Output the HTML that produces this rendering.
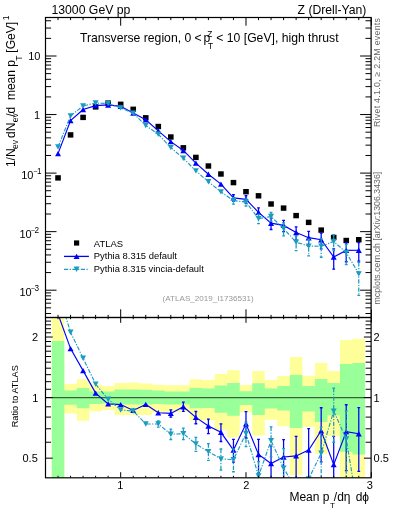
<!DOCTYPE html><html><head><meta charset="utf-8"><style>html,body{margin:0;padding:0;background:#fff;}svg{display:block;will-change:transform;}</style></head><body>
<svg width="393" height="512" viewBox="0 0 393 512" font-family="&quot;Liberation Sans&quot;, sans-serif">
<rect width="393" height="512" fill="#fff"/>
<path d="M51.77,317.50L64.30,317.50L64.30,384.00L76.83,384.00L76.83,379.20L89.36,379.20L89.36,384.80L101.89,384.80L101.89,386.00L114.42,386.00L114.42,383.00L126.95,383.00L126.95,382.60L139.48,382.60L139.48,383.50L152.01,383.50L152.01,384.80L164.54,384.80L164.54,385.30L177.07,385.30L177.07,385.30L189.60,385.30L189.60,379.20L202.13,379.20L202.13,380.00L214.67,380.00L214.67,374.10L227.20,374.10L227.20,370.20L239.73,370.20L239.73,385.00L252.26,385.00L252.26,371.00L264.79,371.00L264.79,380.00L277.32,380.00L277.32,376.00L289.85,376.00L289.85,357.10L302.38,357.10L302.38,375.80L314.91,375.80L314.91,363.00L327.44,363.00L327.44,370.90L339.97,370.90L339.97,340.10L352.50,340.10L352.50,338.80L365.03,338.80L365.03,477.50L352.50,477.50L352.50,477.50L339.97,477.50L339.97,436.20L327.44,436.20L327.44,453.70L314.91,453.70L314.91,427.00L302.38,427.00L302.38,475.00L289.85,475.00L289.85,426.20L277.32,426.20L277.32,419.70L264.79,419.70L264.79,435.50L252.26,435.50L252.26,412.20L239.73,412.20L239.73,437.50L227.20,437.50L227.20,430.20L214.67,430.20L214.67,420.40L202.13,420.40L202.13,420.80L189.60,420.80L189.60,412.00L177.07,412.00L177.07,412.00L164.54,412.00L164.54,412.40L152.01,412.40L152.01,415.00L139.48,415.00L139.48,415.00L126.95,415.00L126.95,415.00L114.42,415.00L114.42,410.00L101.89,410.00L101.89,411.20L89.36,411.20L89.36,420.70L76.83,420.70L76.83,413.50L64.30,413.50L64.30,477.50L51.77,477.50Z" fill="#ffff99"/>
<path d="M51.77,341.00L64.30,341.00L64.30,390.60L76.83,390.60L76.83,388.00L89.36,388.00L89.36,391.40L101.89,391.40L101.89,391.40L114.42,391.40L114.42,389.50L126.95,389.50L126.95,389.50L139.48,389.50L139.48,389.80L152.01,389.80L152.01,390.60L164.54,390.60L164.54,391.40L177.07,391.40L177.07,391.40L189.60,391.40L189.60,388.00L202.13,388.00L202.13,388.50L214.67,388.50L214.67,385.50L227.20,385.50L227.20,382.90L239.73,382.90L239.73,391.20L252.26,391.20L252.26,383.20L264.79,383.20L264.79,388.50L277.32,388.50L277.32,386.10L289.85,386.10L289.85,375.00L302.38,375.00L302.38,385.90L314.91,385.90L314.91,379.10L327.44,379.10L327.44,383.10L339.97,383.10L339.97,363.90L352.50,363.90L352.50,363.00L365.03,363.00L365.03,454.50L352.50,454.50L352.50,451.80L339.97,451.80L339.97,415.20L327.44,415.20L327.44,422.10L314.91,422.10L314.91,411.60L302.38,411.60L302.38,428.00L289.85,428.00L289.85,410.60L277.32,410.60L277.32,408.40L264.79,408.40L264.79,414.90L252.26,414.90L252.26,405.00L239.73,405.00L239.73,415.80L227.20,415.80L227.20,412.80L214.67,412.80L214.67,408.00L202.13,408.00L202.13,408.30L189.60,408.30L189.60,404.40L177.07,404.40L177.07,404.40L164.54,404.40L164.54,404.00L152.01,404.00L152.01,404.40L139.48,404.40L139.48,404.60L126.95,404.60L126.95,404.60L114.42,404.60L114.42,403.60L101.89,403.60L101.89,403.90L89.36,403.90L89.36,408.20L76.83,408.20L76.83,404.80L64.30,404.80L64.30,477.50L51.77,477.50Z" fill="#99ff99"/>
<line x1="45.5" y1="397.6" x2="371.1" y2="397.6" stroke="#000" stroke-width="1.3" stroke-opacity="0.62"/>
<defs><clipPath id="cm"><rect x="45.5" y="17.5" width="325.6" height="300"/></clipPath><clipPath id="cr"><rect x="45.5" y="317.5" width="325.6" height="160.3"/></clipPath></defs>
<g clip-path="url(#cr)">
<polyline points="58.03,314.10 70.56,348.60 83.09,370.60 95.62,393.10 108.15,403.90 120.68,404.60 133.22,410.40 145.75,404.40 158.28,412.80 170.81,413.40 183.34,406.70 195.87,417.40 208.40,426.00 220.93,432.30 233.46,450.00 245.99,423.80 258.52,454.50 271.05,463.50 283.58,457.00 296.12,455.90 308.65,450.10 321.18,430.70 333.71,464.60 346.24,431.60 358.77,433.80" fill="none" stroke="#0000ff" stroke-width="1.15"/>
<path d="M55.03,316.80L61.03,316.80L58.03,311.40Z" fill="#0000ff"/>
<path d="M67.56,351.30L73.56,351.30L70.56,345.90Z" fill="#0000ff"/>
<path d="M80.09,373.30L86.09,373.30L83.09,367.90Z" fill="#0000ff"/>
<path d="M92.62,395.80L98.62,395.80L95.62,390.40Z" fill="#0000ff"/>
<path d="M105.15,406.60L111.15,406.60L108.15,401.20Z" fill="#0000ff"/>
<path d="M117.68,407.30L123.68,407.30L120.68,401.90Z" fill="#0000ff"/>
<path d="M130.22,413.10L136.22,413.10L133.22,407.70Z" fill="#0000ff"/>
<path d="M142.75,407.10L148.75,407.10L145.75,401.70Z" fill="#0000ff"/>
<path d="M155.28,415.50L161.28,415.50L158.28,410.10Z" fill="#0000ff"/>
<line x1="170.81" y1="409.81" x2="170.81" y2="417.15" stroke="#0000ff" stroke-width="1.25"/><line x1="169.41" y1="409.81" x2="172.21" y2="409.81" stroke="#0000ff" stroke-width="1.3"/><line x1="169.41" y1="417.15" x2="172.21" y2="417.15" stroke="#0000ff" stroke-width="1.3"/>
<path d="M167.81,416.10L173.81,416.10L170.81,410.70Z" fill="#0000ff"/>
<line x1="183.34" y1="402.19" x2="183.34" y2="411.46" stroke="#0000ff" stroke-width="1.25"/><line x1="181.94" y1="402.19" x2="184.74" y2="402.19" stroke="#0000ff" stroke-width="1.3"/><line x1="181.94" y1="411.46" x2="184.74" y2="411.46" stroke="#0000ff" stroke-width="1.3"/>
<path d="M180.34,409.40L186.34,409.40L183.34,404.00Z" fill="#0000ff"/>
<line x1="195.87" y1="411.49" x2="195.87" y2="423.74" stroke="#0000ff" stroke-width="1.25"/><line x1="194.47" y1="411.49" x2="197.27" y2="411.49" stroke="#0000ff" stroke-width="1.3"/><line x1="194.47" y1="423.74" x2="197.27" y2="423.74" stroke="#0000ff" stroke-width="1.3"/>
<path d="M192.87,420.10L198.87,420.10L195.87,414.70Z" fill="#0000ff"/>
<line x1="208.40" y1="419.03" x2="208.40" y2="433.57" stroke="#0000ff" stroke-width="1.25"/><line x1="207.00" y1="419.03" x2="209.80" y2="419.03" stroke="#0000ff" stroke-width="1.3"/><line x1="207.00" y1="433.57" x2="209.80" y2="433.57" stroke="#0000ff" stroke-width="1.3"/>
<path d="M205.40,428.70L211.40,428.70L208.40,423.30Z" fill="#0000ff"/>
<line x1="220.93" y1="423.97" x2="220.93" y2="441.51" stroke="#0000ff" stroke-width="1.25"/><line x1="219.53" y1="423.97" x2="222.33" y2="423.97" stroke="#0000ff" stroke-width="1.3"/><line x1="219.53" y1="441.51" x2="222.33" y2="441.51" stroke="#0000ff" stroke-width="1.3"/>
<path d="M217.93,435.00L223.93,435.00L220.93,429.60Z" fill="#0000ff"/>
<line x1="233.46" y1="439.32" x2="233.46" y2="462.17" stroke="#0000ff" stroke-width="1.25"/><line x1="232.06" y1="439.32" x2="234.86" y2="439.32" stroke="#0000ff" stroke-width="1.3"/><line x1="232.06" y1="462.17" x2="234.86" y2="462.17" stroke="#0000ff" stroke-width="1.3"/>
<path d="M230.46,452.70L236.46,452.70L233.46,447.30Z" fill="#0000ff"/>
<line x1="245.99" y1="411.59" x2="245.99" y2="438.00" stroke="#0000ff" stroke-width="1.25"/><line x1="244.59" y1="411.59" x2="247.39" y2="411.59" stroke="#0000ff" stroke-width="1.3"/><line x1="244.59" y1="438.00" x2="247.39" y2="438.00" stroke="#0000ff" stroke-width="1.3"/>
<path d="M242.99,426.50L248.99,426.50L245.99,421.10Z" fill="#0000ff"/>
<line x1="258.52" y1="439.30" x2="258.52" y2="472.91" stroke="#0000ff" stroke-width="1.25"/><line x1="257.12" y1="439.30" x2="259.92" y2="439.30" stroke="#0000ff" stroke-width="1.3"/><line x1="257.12" y1="472.91" x2="259.92" y2="472.91" stroke="#0000ff" stroke-width="1.3"/>
<path d="M255.52,457.20L261.52,457.20L258.52,451.80Z" fill="#0000ff"/>
<line x1="271.05" y1="446.12" x2="271.05" y2="485.21" stroke="#0000ff" stroke-width="1.25"/><line x1="269.65" y1="446.12" x2="272.45" y2="446.12" stroke="#0000ff" stroke-width="1.3"/><line x1="269.65" y1="485.21" x2="272.45" y2="485.21" stroke="#0000ff" stroke-width="1.3"/>
<path d="M268.05,466.20L274.05,466.20L271.05,460.80Z" fill="#0000ff"/>
<line x1="283.58" y1="439.62" x2="283.58" y2="478.71" stroke="#0000ff" stroke-width="1.25"/><line x1="282.18" y1="439.62" x2="284.98" y2="439.62" stroke="#0000ff" stroke-width="1.3"/><line x1="282.18" y1="478.71" x2="284.98" y2="478.71" stroke="#0000ff" stroke-width="1.3"/>
<path d="M280.58,459.70L286.58,459.70L283.58,454.30Z" fill="#0000ff"/>
<line x1="296.12" y1="436.40" x2="296.12" y2="481.04" stroke="#0000ff" stroke-width="1.25"/><line x1="294.72" y1="436.40" x2="297.52" y2="436.40" stroke="#0000ff" stroke-width="1.3"/><line x1="294.72" y1="481.04" x2="297.52" y2="481.04" stroke="#0000ff" stroke-width="1.3"/>
<path d="M293.12,458.60L299.12,458.60L296.12,453.20Z" fill="#0000ff"/>
<line x1="308.65" y1="428.53" x2="308.65" y2="478.80" stroke="#0000ff" stroke-width="1.25"/><line x1="307.25" y1="428.53" x2="310.05" y2="428.53" stroke="#0000ff" stroke-width="1.3"/><line x1="307.25" y1="478.80" x2="310.05" y2="478.80" stroke="#0000ff" stroke-width="1.3"/>
<path d="M305.65,452.80L311.65,452.80L308.65,447.40Z" fill="#0000ff"/>
<line x1="321.18" y1="407.77" x2="321.18" y2="461.87" stroke="#0000ff" stroke-width="1.25"/><line x1="319.78" y1="407.77" x2="322.58" y2="407.77" stroke="#0000ff" stroke-width="1.3"/><line x1="319.78" y1="461.87" x2="322.58" y2="461.87" stroke="#0000ff" stroke-width="1.3"/>
<path d="M318.18,433.40L324.18,433.40L321.18,428.00Z" fill="#0000ff"/>
<line x1="333.71" y1="436.46" x2="333.71" y2="506.37" stroke="#0000ff" stroke-width="1.25"/><line x1="332.31" y1="436.46" x2="335.11" y2="436.46" stroke="#0000ff" stroke-width="1.3"/><line x1="332.31" y1="506.37" x2="335.11" y2="506.37" stroke="#0000ff" stroke-width="1.3"/>
<path d="M330.71,467.30L336.71,467.30L333.71,461.90Z" fill="#0000ff"/>
<line x1="346.24" y1="404.73" x2="346.24" y2="470.60" stroke="#0000ff" stroke-width="1.25"/><line x1="344.84" y1="404.73" x2="347.64" y2="404.73" stroke="#0000ff" stroke-width="1.3"/><line x1="344.84" y1="470.60" x2="347.64" y2="470.60" stroke="#0000ff" stroke-width="1.3"/>
<path d="M343.24,434.30L349.24,434.30L346.24,428.90Z" fill="#0000ff"/>
<line x1="358.77" y1="407.58" x2="358.77" y2="471.44" stroke="#0000ff" stroke-width="1.25"/><line x1="357.37" y1="407.58" x2="360.17" y2="407.58" stroke="#0000ff" stroke-width="1.3"/><line x1="357.37" y1="471.44" x2="360.17" y2="471.44" stroke="#0000ff" stroke-width="1.3"/>
<path d="M355.77,436.50L361.77,436.50L358.77,431.10Z" fill="#0000ff"/>
</g>
<g clip-path="url(#cr)">
<polyline points="58.03,291.20 70.56,332.30 83.09,358.20 95.62,384.10 108.15,399.20 120.68,410.00 133.22,411.00 145.75,424.00 158.28,424.00 170.81,434.20 183.34,433.70 195.87,444.00 208.40,451.60 220.93,458.90 233.46,459.60 245.99,433.50 258.52,476.00 271.05,440.60 283.58,468.10 296.12,489.00 308.65,479.00 321.18,453.30 333.71,411.10 346.24,439.00 358.77,515.00" fill="none" stroke="#1a9cc0" stroke-width="1.15" stroke-dasharray="4.2,1.5,1.2,1.5"/>
<path d="M55.03,288.50L61.03,288.50L58.03,293.90Z" fill="#1a9cc0"/>
<path d="M67.56,329.60L73.56,329.60L70.56,335.00Z" fill="#1a9cc0"/>
<path d="M80.09,355.50L86.09,355.50L83.09,360.90Z" fill="#1a9cc0"/>
<path d="M92.62,381.40L98.62,381.40L95.62,386.80Z" fill="#1a9cc0"/>
<path d="M105.15,396.50L111.15,396.50L108.15,401.90Z" fill="#1a9cc0"/>
<path d="M117.68,407.30L123.68,407.30L120.68,412.70Z" fill="#1a9cc0"/>
<path d="M130.22,408.30L136.22,408.30L133.22,413.70Z" fill="#1a9cc0"/>
<path d="M142.75,421.30L148.75,421.30L145.75,426.70Z" fill="#1a9cc0"/>
<line x1="158.28" y1="420.99" x2="158.28" y2="427.11" stroke="#1a9cc0" stroke-width="1.25" stroke-dasharray="4.2,1.5,1.2,1.5"/><line x1="156.88" y1="420.99" x2="159.68" y2="420.99" stroke="#1a9cc0" stroke-width="1.3"/><line x1="156.88" y1="427.11" x2="159.68" y2="427.11" stroke="#1a9cc0" stroke-width="1.3"/>
<path d="M155.28,421.30L161.28,421.30L158.28,426.70Z" fill="#1a9cc0"/>
<line x1="170.81" y1="429.11" x2="170.81" y2="439.61" stroke="#1a9cc0" stroke-width="1.25" stroke-dasharray="4.2,1.5,1.2,1.5"/><line x1="169.41" y1="429.11" x2="172.21" y2="429.11" stroke="#1a9cc0" stroke-width="1.3"/><line x1="169.41" y1="439.61" x2="172.21" y2="439.61" stroke="#1a9cc0" stroke-width="1.3"/>
<path d="M167.81,431.50L173.81,431.50L170.81,436.90Z" fill="#1a9cc0"/>
<line x1="183.34" y1="428.20" x2="183.34" y2="439.57" stroke="#1a9cc0" stroke-width="1.25" stroke-dasharray="4.2,1.5,1.2,1.5"/><line x1="181.94" y1="428.20" x2="184.74" y2="428.20" stroke="#1a9cc0" stroke-width="1.3"/><line x1="181.94" y1="439.57" x2="184.74" y2="439.57" stroke="#1a9cc0" stroke-width="1.3"/>
<path d="M180.34,431.00L186.34,431.00L183.34,436.40Z" fill="#1a9cc0"/>
<line x1="195.87" y1="437.28" x2="195.87" y2="451.29" stroke="#1a9cc0" stroke-width="1.25" stroke-dasharray="4.2,1.5,1.2,1.5"/><line x1="194.47" y1="437.28" x2="197.27" y2="437.28" stroke="#1a9cc0" stroke-width="1.3"/><line x1="194.47" y1="451.29" x2="197.27" y2="451.29" stroke="#1a9cc0" stroke-width="1.3"/>
<path d="M192.87,441.30L198.87,441.30L195.87,446.70Z" fill="#1a9cc0"/>
<line x1="208.40" y1="443.67" x2="208.40" y2="460.32" stroke="#1a9cc0" stroke-width="1.25" stroke-dasharray="4.2,1.5,1.2,1.5"/><line x1="207.00" y1="443.67" x2="209.80" y2="443.67" stroke="#1a9cc0" stroke-width="1.3"/><line x1="207.00" y1="460.32" x2="209.80" y2="460.32" stroke="#1a9cc0" stroke-width="1.3"/>
<path d="M205.40,448.90L211.40,448.90L208.40,454.30Z" fill="#1a9cc0"/>
<line x1="220.93" y1="449.00" x2="220.93" y2="470.07" stroke="#1a9cc0" stroke-width="1.25" stroke-dasharray="4.2,1.5,1.2,1.5"/><line x1="219.53" y1="449.00" x2="222.33" y2="449.00" stroke="#1a9cc0" stroke-width="1.3"/><line x1="219.53" y1="470.07" x2="222.33" y2="470.07" stroke="#1a9cc0" stroke-width="1.3"/>
<path d="M217.93,456.20L223.93,456.20L220.93,461.60Z" fill="#1a9cc0"/>
<line x1="233.46" y1="448.92" x2="233.46" y2="471.77" stroke="#1a9cc0" stroke-width="1.25" stroke-dasharray="4.2,1.5,1.2,1.5"/><line x1="232.06" y1="448.92" x2="234.86" y2="448.92" stroke="#1a9cc0" stroke-width="1.3"/><line x1="232.06" y1="471.77" x2="234.86" y2="471.77" stroke="#1a9cc0" stroke-width="1.3"/>
<path d="M230.46,456.90L236.46,456.90L233.46,462.30Z" fill="#1a9cc0"/>
<line x1="245.99" y1="422.05" x2="245.99" y2="446.68" stroke="#1a9cc0" stroke-width="1.25" stroke-dasharray="4.2,1.5,1.2,1.5"/><line x1="244.59" y1="422.05" x2="247.39" y2="422.05" stroke="#1a9cc0" stroke-width="1.3"/><line x1="244.59" y1="446.68" x2="247.39" y2="446.68" stroke="#1a9cc0" stroke-width="1.3"/>
<path d="M242.99,430.80L248.99,430.80L245.99,436.20Z" fill="#1a9cc0"/>
<line x1="258.52" y1="461.54" x2="258.52" y2="493.34" stroke="#1a9cc0" stroke-width="1.25" stroke-dasharray="4.2,1.5,1.2,1.5"/><line x1="257.12" y1="461.54" x2="259.92" y2="461.54" stroke="#1a9cc0" stroke-width="1.3"/><line x1="257.12" y1="493.34" x2="259.92" y2="493.34" stroke="#1a9cc0" stroke-width="1.3"/>
<path d="M255.52,473.30L261.52,473.30L258.52,478.70Z" fill="#1a9cc0"/>
<line x1="271.05" y1="426.88" x2="271.05" y2="456.88" stroke="#1a9cc0" stroke-width="1.25" stroke-dasharray="4.2,1.5,1.2,1.5"/><line x1="269.65" y1="426.88" x2="272.45" y2="426.88" stroke="#1a9cc0" stroke-width="1.3"/><line x1="269.65" y1="456.88" x2="272.45" y2="456.88" stroke="#1a9cc0" stroke-width="1.3"/>
<path d="M268.05,437.90L274.05,437.90L271.05,443.30Z" fill="#1a9cc0"/>
<line x1="283.58" y1="448.60" x2="283.58" y2="493.24" stroke="#1a9cc0" stroke-width="1.25" stroke-dasharray="4.2,1.5,1.2,1.5"/><line x1="282.18" y1="448.60" x2="284.98" y2="448.60" stroke="#1a9cc0" stroke-width="1.3"/><line x1="282.18" y1="493.24" x2="284.98" y2="493.24" stroke="#1a9cc0" stroke-width="1.3"/>
<path d="M280.58,465.40L286.58,465.40L283.58,470.80Z" fill="#1a9cc0"/>
<path d="M293.12,486.30L299.12,486.30L296.12,491.70Z" fill="#1a9cc0"/>
<path d="M305.65,476.30L311.65,476.30L308.65,481.70Z" fill="#1a9cc0"/>
<line x1="321.18" y1="427.08" x2="321.18" y2="490.94" stroke="#1a9cc0" stroke-width="1.25" stroke-dasharray="4.2,1.5,1.2,1.5"/><line x1="319.78" y1="427.08" x2="322.58" y2="427.08" stroke="#1a9cc0" stroke-width="1.3"/><line x1="319.78" y1="490.94" x2="322.58" y2="490.94" stroke="#1a9cc0" stroke-width="1.3"/>
<path d="M318.18,450.60L324.18,450.60L321.18,456.00Z" fill="#1a9cc0"/>
<line x1="333.71" y1="388.17" x2="333.71" y2="442.27" stroke="#1a9cc0" stroke-width="1.25" stroke-dasharray="4.2,1.5,1.2,1.5"/><line x1="332.31" y1="388.17" x2="335.11" y2="388.17" stroke="#1a9cc0" stroke-width="1.3"/><line x1="332.31" y1="442.27" x2="335.11" y2="442.27" stroke="#1a9cc0" stroke-width="1.3"/>
<path d="M330.71,408.40L336.71,408.40L333.71,413.80Z" fill="#1a9cc0"/>
<line x1="346.24" y1="410.86" x2="346.24" y2="480.77" stroke="#1a9cc0" stroke-width="1.25" stroke-dasharray="4.2,1.5,1.2,1.5"/><line x1="344.84" y1="410.86" x2="347.64" y2="410.86" stroke="#1a9cc0" stroke-width="1.3"/><line x1="344.84" y1="480.77" x2="347.64" y2="480.77" stroke="#1a9cc0" stroke-width="1.3"/>
<path d="M343.24,436.30L349.24,436.30L346.24,441.70Z" fill="#1a9cc0"/>
<path d="M355.77,512.30L361.77,512.30L358.77,517.70Z" fill="#1a9cc0"/>
</g>
<g clip-path="url(#cm)">
<rect x="55.23" y="175.20" width="5.6" height="5.4" fill="#000"/>
<rect x="67.76" y="132.20" width="5.6" height="5.4" fill="#000"/>
<rect x="80.29" y="114.70" width="5.6" height="5.4" fill="#000"/>
<rect x="92.82" y="104.20" width="5.6" height="5.4" fill="#000"/>
<rect x="105.35" y="100.40" width="5.6" height="5.4" fill="#000"/>
<rect x="117.88" y="101.60" width="5.6" height="5.4" fill="#000"/>
<rect x="130.42" y="106.60" width="5.6" height="5.4" fill="#000"/>
<rect x="142.95" y="115.10" width="5.6" height="5.4" fill="#000"/>
<rect x="155.48" y="123.80" width="5.6" height="5.4" fill="#000"/>
<rect x="168.01" y="134.30" width="5.6" height="5.4" fill="#000"/>
<rect x="180.54" y="145.10" width="5.6" height="5.4" fill="#000"/>
<rect x="193.07" y="154.70" width="5.6" height="5.4" fill="#000"/>
<rect x="205.60" y="163.30" width="5.6" height="5.4" fill="#000"/>
<rect x="218.13" y="171.30" width="5.6" height="5.4" fill="#000"/>
<rect x="230.66" y="179.90" width="5.6" height="5.4" fill="#000"/>
<rect x="243.19" y="189.00" width="5.6" height="5.4" fill="#000"/>
<rect x="255.72" y="193.10" width="5.6" height="5.4" fill="#000"/>
<rect x="268.25" y="201.30" width="5.6" height="5.4" fill="#000"/>
<rect x="280.78" y="205.40" width="5.6" height="5.4" fill="#000"/>
<rect x="293.32" y="212.90" width="5.6" height="5.4" fill="#000"/>
<rect x="305.85" y="219.70" width="5.6" height="5.4" fill="#000"/>
<rect x="318.38" y="227.40" width="5.6" height="5.4" fill="#000"/>
<rect x="330.91" y="234.80" width="5.6" height="5.4" fill="#000"/>
<rect x="343.44" y="237.80" width="5.6" height="5.4" fill="#000"/>
<rect x="355.97" y="237.00" width="5.6" height="5.4" fill="#000"/>
<polyline points="58.03,153.60 70.56,120.64 83.09,109.54 95.62,105.59 108.15,104.93 120.68,106.34 133.22,113.02 145.75,119.78 158.28,130.92 170.81,141.60 183.34,150.45 195.87,163.16 208.40,174.26 220.93,184.10 233.46,197.85 245.99,199.32 258.52,212.36 271.05,223.18 283.58,225.39 296.12,232.57 308.65,237.68 321.18,239.73 333.71,257.00 346.24,250.39 358.77,250.23" fill="none" stroke="#0000ff" stroke-width="1.15"/>
<path d="M55.03,156.30L61.03,156.30L58.03,150.90Z" fill="#0000ff"/>
<path d="M67.56,123.34L73.56,123.34L70.56,117.94Z" fill="#0000ff"/>
<path d="M80.09,112.24L86.09,112.24L83.09,106.84Z" fill="#0000ff"/>
<path d="M92.62,108.29L98.62,108.29L95.62,102.89Z" fill="#0000ff"/>
<path d="M105.15,107.63L111.15,107.63L108.15,102.23Z" fill="#0000ff"/>
<path d="M117.68,109.04L123.68,109.04L120.68,103.64Z" fill="#0000ff"/>
<path d="M130.22,115.72L136.22,115.72L133.22,110.32Z" fill="#0000ff"/>
<path d="M142.75,122.48L148.75,122.48L145.75,117.08Z" fill="#0000ff"/>
<path d="M155.28,133.62L161.28,133.62L158.28,128.22Z" fill="#0000ff"/>
<path d="M167.81,144.30L173.81,144.30L170.81,138.90Z" fill="#0000ff"/>
<path d="M180.34,153.15L186.34,153.15L183.34,147.75Z" fill="#0000ff"/>
<path d="M192.87,165.86L198.87,165.86L195.87,160.46Z" fill="#0000ff"/>
<path d="M205.40,176.96L211.40,176.96L208.40,171.56Z" fill="#0000ff"/>
<path d="M217.93,186.80L223.93,186.80L220.93,181.40Z" fill="#0000ff"/>
<line x1="233.46" y1="194.74" x2="233.46" y2="201.39" stroke="#0000ff" stroke-width="1.25"/><line x1="232.06" y1="194.74" x2="234.86" y2="194.74" stroke="#0000ff" stroke-width="1.3"/><line x1="232.06" y1="201.39" x2="234.86" y2="201.39" stroke="#0000ff" stroke-width="1.3"/>
<path d="M230.46,200.55L236.46,200.55L233.46,195.15Z" fill="#0000ff"/>
<line x1="245.99" y1="195.77" x2="245.99" y2="203.46" stroke="#0000ff" stroke-width="1.25"/><line x1="244.59" y1="195.77" x2="247.39" y2="195.77" stroke="#0000ff" stroke-width="1.3"/><line x1="244.59" y1="203.46" x2="247.39" y2="203.46" stroke="#0000ff" stroke-width="1.3"/>
<path d="M242.99,202.02L248.99,202.02L245.99,196.62Z" fill="#0000ff"/>
<line x1="258.52" y1="207.93" x2="258.52" y2="217.72" stroke="#0000ff" stroke-width="1.25"/><line x1="257.12" y1="207.93" x2="259.92" y2="207.93" stroke="#0000ff" stroke-width="1.3"/><line x1="257.12" y1="217.72" x2="259.92" y2="217.72" stroke="#0000ff" stroke-width="1.3"/>
<path d="M255.52,215.06L261.52,215.06L258.52,209.66Z" fill="#0000ff"/>
<line x1="271.05" y1="218.12" x2="271.05" y2="229.50" stroke="#0000ff" stroke-width="1.25"/><line x1="269.65" y1="218.12" x2="272.45" y2="218.12" stroke="#0000ff" stroke-width="1.3"/><line x1="269.65" y1="229.50" x2="272.45" y2="229.50" stroke="#0000ff" stroke-width="1.3"/>
<path d="M268.05,225.88L274.05,225.88L271.05,220.48Z" fill="#0000ff"/>
<line x1="283.58" y1="220.33" x2="283.58" y2="231.70" stroke="#0000ff" stroke-width="1.25"/><line x1="282.18" y1="220.33" x2="284.98" y2="220.33" stroke="#0000ff" stroke-width="1.3"/><line x1="282.18" y1="231.70" x2="284.98" y2="231.70" stroke="#0000ff" stroke-width="1.3"/>
<path d="M280.58,228.09L286.58,228.09L283.58,222.69Z" fill="#0000ff"/>
<line x1="296.12" y1="226.89" x2="296.12" y2="239.88" stroke="#0000ff" stroke-width="1.25"/><line x1="294.72" y1="226.89" x2="297.52" y2="226.89" stroke="#0000ff" stroke-width="1.3"/><line x1="294.72" y1="239.88" x2="297.52" y2="239.88" stroke="#0000ff" stroke-width="1.3"/>
<path d="M293.12,235.27L299.12,235.27L296.12,229.87Z" fill="#0000ff"/>
<line x1="308.65" y1="231.40" x2="308.65" y2="246.03" stroke="#0000ff" stroke-width="1.25"/><line x1="307.25" y1="231.40" x2="310.05" y2="231.40" stroke="#0000ff" stroke-width="1.3"/><line x1="307.25" y1="246.03" x2="310.05" y2="246.03" stroke="#0000ff" stroke-width="1.3"/>
<path d="M305.65,240.38L311.65,240.38L308.65,234.98Z" fill="#0000ff"/>
<line x1="321.18" y1="233.06" x2="321.18" y2="248.80" stroke="#0000ff" stroke-width="1.25"/><line x1="319.78" y1="233.06" x2="322.58" y2="233.06" stroke="#0000ff" stroke-width="1.3"/><line x1="319.78" y1="248.80" x2="322.58" y2="248.80" stroke="#0000ff" stroke-width="1.3"/>
<path d="M318.18,242.43L324.18,242.43L321.18,237.03Z" fill="#0000ff"/>
<line x1="333.71" y1="248.81" x2="333.71" y2="269.15" stroke="#0000ff" stroke-width="1.25"/><line x1="332.31" y1="248.81" x2="335.11" y2="248.81" stroke="#0000ff" stroke-width="1.3"/><line x1="332.31" y1="269.15" x2="335.11" y2="269.15" stroke="#0000ff" stroke-width="1.3"/>
<path d="M330.71,259.70L336.71,259.70L333.71,254.30Z" fill="#0000ff"/>
<line x1="346.24" y1="242.58" x2="346.24" y2="261.74" stroke="#0000ff" stroke-width="1.25"/><line x1="344.84" y1="242.58" x2="347.64" y2="242.58" stroke="#0000ff" stroke-width="1.3"/><line x1="344.84" y1="261.74" x2="347.64" y2="261.74" stroke="#0000ff" stroke-width="1.3"/>
<path d="M343.24,253.09L349.24,253.09L346.24,247.69Z" fill="#0000ff"/>
<line x1="358.77" y1="242.60" x2="358.77" y2="261.19" stroke="#0000ff" stroke-width="1.25"/><line x1="357.37" y1="242.60" x2="360.17" y2="242.60" stroke="#0000ff" stroke-width="1.3"/><line x1="357.37" y1="261.19" x2="360.17" y2="261.19" stroke="#0000ff" stroke-width="1.3"/>
<path d="M355.77,252.93L361.77,252.93L358.77,247.53Z" fill="#0000ff"/>
<polyline points="58.03,146.94 70.56,115.90 83.09,105.93 95.62,102.97 108.15,103.57 120.68,107.91 133.22,113.20 145.75,125.48 158.28,134.18 170.81,147.65 183.34,158.31 195.87,170.90 208.40,181.71 220.93,191.84 233.46,200.64 245.99,202.15 258.52,218.61 271.05,216.51 283.58,228.62 296.12,242.20 308.65,246.09 321.18,246.31 333.71,241.43 346.24,252.55 358.77,273.86" fill="none" stroke="#1a9cc0" stroke-width="1.15" stroke-dasharray="4.2,1.5,1.2,1.5"/>
<path d="M55.03,144.24L61.03,144.24L58.03,149.64Z" fill="#1a9cc0"/>
<path d="M67.56,113.20L73.56,113.20L70.56,118.60Z" fill="#1a9cc0"/>
<path d="M80.09,103.23L86.09,103.23L83.09,108.63Z" fill="#1a9cc0"/>
<path d="M92.62,100.27L98.62,100.27L95.62,105.67Z" fill="#1a9cc0"/>
<path d="M105.15,100.87L111.15,100.87L108.15,106.27Z" fill="#1a9cc0"/>
<path d="M117.68,105.21L123.68,105.21L120.68,110.61Z" fill="#1a9cc0"/>
<path d="M130.22,110.50L136.22,110.50L133.22,115.90Z" fill="#1a9cc0"/>
<path d="M142.75,122.78L148.75,122.78L145.75,128.18Z" fill="#1a9cc0"/>
<path d="M155.28,131.48L161.28,131.48L158.28,136.88Z" fill="#1a9cc0"/>
<path d="M167.81,144.95L173.81,144.95L170.81,150.35Z" fill="#1a9cc0"/>
<path d="M180.34,155.61L186.34,155.61L183.34,161.01Z" fill="#1a9cc0"/>
<path d="M192.87,168.20L198.87,168.20L195.87,173.60Z" fill="#1a9cc0"/>
<path d="M205.40,179.01L211.40,179.01L208.40,184.41Z" fill="#1a9cc0"/>
<path d="M217.93,189.14L223.93,189.14L220.93,194.54Z" fill="#1a9cc0"/>
<line x1="233.46" y1="197.53" x2="233.46" y2="204.18" stroke="#1a9cc0" stroke-width="1.25" stroke-dasharray="4.2,1.5,1.2,1.5"/><line x1="232.06" y1="197.53" x2="234.86" y2="197.53" stroke="#1a9cc0" stroke-width="1.3"/><line x1="232.06" y1="204.18" x2="234.86" y2="204.18" stroke="#1a9cc0" stroke-width="1.3"/>
<path d="M230.46,197.94L236.46,197.94L233.46,203.34Z" fill="#1a9cc0"/>
<line x1="245.99" y1="198.82" x2="245.99" y2="205.98" stroke="#1a9cc0" stroke-width="1.25" stroke-dasharray="4.2,1.5,1.2,1.5"/><line x1="244.59" y1="198.82" x2="247.39" y2="198.82" stroke="#1a9cc0" stroke-width="1.3"/><line x1="244.59" y1="205.98" x2="247.39" y2="205.98" stroke="#1a9cc0" stroke-width="1.3"/>
<path d="M242.99,199.45L248.99,199.45L245.99,204.85Z" fill="#1a9cc0"/>
<line x1="258.52" y1="214.41" x2="258.52" y2="223.66" stroke="#1a9cc0" stroke-width="1.25" stroke-dasharray="4.2,1.5,1.2,1.5"/><line x1="257.12" y1="214.41" x2="259.92" y2="214.41" stroke="#1a9cc0" stroke-width="1.3"/><line x1="257.12" y1="223.66" x2="259.92" y2="223.66" stroke="#1a9cc0" stroke-width="1.3"/>
<path d="M255.52,215.91L261.52,215.91L258.52,221.31Z" fill="#1a9cc0"/>
<line x1="271.05" y1="212.52" x2="271.05" y2="221.25" stroke="#1a9cc0" stroke-width="1.25" stroke-dasharray="4.2,1.5,1.2,1.5"/><line x1="269.65" y1="212.52" x2="272.45" y2="212.52" stroke="#1a9cc0" stroke-width="1.3"/><line x1="269.65" y1="221.25" x2="272.45" y2="221.25" stroke="#1a9cc0" stroke-width="1.3"/>
<path d="M268.05,213.81L274.05,213.81L271.05,219.21Z" fill="#1a9cc0"/>
<line x1="283.58" y1="222.94" x2="283.58" y2="235.93" stroke="#1a9cc0" stroke-width="1.25" stroke-dasharray="4.2,1.5,1.2,1.5"/><line x1="282.18" y1="222.94" x2="284.98" y2="222.94" stroke="#1a9cc0" stroke-width="1.3"/><line x1="282.18" y1="235.93" x2="284.98" y2="235.93" stroke="#1a9cc0" stroke-width="1.3"/>
<path d="M280.58,225.92L286.58,225.92L283.58,231.32Z" fill="#1a9cc0"/>
<line x1="296.12" y1="235.92" x2="296.12" y2="250.55" stroke="#1a9cc0" stroke-width="1.25" stroke-dasharray="4.2,1.5,1.2,1.5"/><line x1="294.72" y1="235.92" x2="297.52" y2="235.92" stroke="#1a9cc0" stroke-width="1.3"/><line x1="294.72" y1="250.55" x2="297.52" y2="250.55" stroke="#1a9cc0" stroke-width="1.3"/>
<path d="M293.12,239.50L299.12,239.50L296.12,244.90Z" fill="#1a9cc0"/>
<line x1="308.65" y1="239.03" x2="308.65" y2="255.89" stroke="#1a9cc0" stroke-width="1.25" stroke-dasharray="4.2,1.5,1.2,1.5"/><line x1="307.25" y1="239.03" x2="310.05" y2="239.03" stroke="#1a9cc0" stroke-width="1.3"/><line x1="307.25" y1="255.89" x2="310.05" y2="255.89" stroke="#1a9cc0" stroke-width="1.3"/>
<path d="M305.65,243.39L311.65,243.39L308.65,248.79Z" fill="#1a9cc0"/>
<line x1="321.18" y1="238.68" x2="321.18" y2="257.26" stroke="#1a9cc0" stroke-width="1.25" stroke-dasharray="4.2,1.5,1.2,1.5"/><line x1="319.78" y1="238.68" x2="322.58" y2="238.68" stroke="#1a9cc0" stroke-width="1.3"/><line x1="319.78" y1="257.26" x2="322.58" y2="257.26" stroke="#1a9cc0" stroke-width="1.3"/>
<path d="M318.18,243.61L324.18,243.61L321.18,249.01Z" fill="#1a9cc0"/>
<line x1="333.71" y1="234.76" x2="333.71" y2="250.50" stroke="#1a9cc0" stroke-width="1.25" stroke-dasharray="4.2,1.5,1.2,1.5"/><line x1="332.31" y1="234.76" x2="335.11" y2="234.76" stroke="#1a9cc0" stroke-width="1.3"/><line x1="332.31" y1="250.50" x2="335.11" y2="250.50" stroke="#1a9cc0" stroke-width="1.3"/>
<path d="M330.71,238.73L336.71,238.73L333.71,244.13Z" fill="#1a9cc0"/>
<line x1="346.24" y1="244.36" x2="346.24" y2="264.70" stroke="#1a9cc0" stroke-width="1.25" stroke-dasharray="4.2,1.5,1.2,1.5"/><line x1="344.84" y1="244.36" x2="347.64" y2="244.36" stroke="#1a9cc0" stroke-width="1.3"/><line x1="344.84" y1="264.70" x2="347.64" y2="264.70" stroke="#1a9cc0" stroke-width="1.3"/>
<path d="M343.24,249.85L349.24,249.85L346.24,255.25Z" fill="#1a9cc0"/>
<line x1="358.77" y1="262.39" x2="358.77" y2="295.32" stroke="#1a9cc0" stroke-width="1.25" stroke-dasharray="4.2,1.5,1.2,1.5"/><line x1="357.37" y1="262.39" x2="360.17" y2="262.39" stroke="#1a9cc0" stroke-width="1.3"/><line x1="357.37" y1="295.32" x2="360.17" y2="295.32" stroke="#1a9cc0" stroke-width="1.3"/>
<path d="M355.77,271.16L361.77,271.16L358.77,276.56Z" fill="#1a9cc0"/>
</g>
<rect x="45.5" y="17.5" width="325.6" height="300" fill="none" stroke="#000" stroke-width="1.2"/>
<rect x="45.5" y="317.5" width="325.6" height="160.3" fill="none" stroke="#000" stroke-width="1.2"/>
<path d="M45.5,313.50h5.6M371.1,313.50h-5.6M45.5,307.83h5.6M371.1,307.83h-5.6M45.5,303.19h5.6M371.1,303.19h-5.6M45.5,299.27h5.6M371.1,299.27h-5.6M45.5,295.87h5.6M371.1,295.87h-5.6M45.5,292.88h5.6M371.1,292.88h-5.6M45.5,290.20h11M371.1,290.20h-11M45.5,272.57h5.6M371.1,272.57h-5.6M45.5,262.26h5.6M371.1,262.26h-5.6M45.5,254.95h5.6M371.1,254.95h-5.6M45.5,249.28h5.6M371.1,249.28h-5.6M45.5,244.64h5.6M371.1,244.64h-5.6M45.5,240.72h5.6M371.1,240.72h-5.6M45.5,237.32h5.6M371.1,237.32h-5.6M45.5,234.33h5.6M371.1,234.33h-5.6M45.5,231.65h11M371.1,231.65h-11M45.5,214.02h5.6M371.1,214.02h-5.6M45.5,203.71h5.6M371.1,203.71h-5.6M45.5,196.40h5.6M371.1,196.40h-5.6M45.5,190.73h5.6M371.1,190.73h-5.6M45.5,186.09h5.6M371.1,186.09h-5.6M45.5,182.17h5.6M371.1,182.17h-5.6M45.5,178.77h5.6M371.1,178.77h-5.6M45.5,175.78h5.6M371.1,175.78h-5.6M45.5,173.10h11M371.1,173.10h-11M45.5,155.47h5.6M371.1,155.47h-5.6M45.5,145.16h5.6M371.1,145.16h-5.6M45.5,137.85h5.6M371.1,137.85h-5.6M45.5,132.18h5.6M371.1,132.18h-5.6M45.5,127.54h5.6M371.1,127.54h-5.6M45.5,123.62h5.6M371.1,123.62h-5.6M45.5,120.22h5.6M371.1,120.22h-5.6M45.5,117.23h5.6M371.1,117.23h-5.6M45.5,114.55h11M371.1,114.55h-11M45.5,96.92h5.6M371.1,96.92h-5.6M45.5,86.61h5.6M371.1,86.61h-5.6M45.5,79.30h5.6M371.1,79.30h-5.6M45.5,73.63h5.6M371.1,73.63h-5.6M45.5,68.99h5.6M371.1,68.99h-5.6M45.5,65.07h5.6M371.1,65.07h-5.6M45.5,61.67h5.6M371.1,61.67h-5.6M45.5,58.68h5.6M371.1,58.68h-5.6M45.5,56.00h11M371.1,56.00h-11M45.5,38.37h5.6M371.1,38.37h-5.6M45.5,28.06h5.6M371.1,28.06h-5.6M45.5,20.75h5.6M371.1,20.75h-5.6M45.50,17.5v2.6M45.50,317.5v-2.6M45.50,317.5v1.7M45.50,477.5v-1.7M58.03,17.5v2.6M58.03,317.5v-2.6M58.03,317.5v1.7M58.03,477.5v-1.7M70.56,17.5v2.6M70.56,317.5v-2.6M70.56,317.5v1.7M70.56,477.5v-1.7M83.09,17.5v2.6M83.09,317.5v-2.6M83.09,317.5v1.7M83.09,477.5v-1.7M95.62,17.5v2.6M95.62,317.5v-2.6M95.62,317.5v1.7M95.62,477.5v-1.7M108.15,17.5v2.6M108.15,317.5v-2.6M108.15,317.5v1.7M108.15,477.5v-1.7M120.68,17.5v8.2M120.68,317.5v-8.2M120.68,317.5v5.3M120.68,477.5v-5.3M133.22,17.5v2.6M133.22,317.5v-2.6M133.22,317.5v1.7M133.22,477.5v-1.7M145.75,17.5v2.6M145.75,317.5v-2.6M145.75,317.5v1.7M145.75,477.5v-1.7M158.28,17.5v2.6M158.28,317.5v-2.6M158.28,317.5v1.7M158.28,477.5v-1.7M170.81,17.5v2.6M170.81,317.5v-2.6M170.81,317.5v1.7M170.81,477.5v-1.7M183.34,17.5v2.6M183.34,317.5v-2.6M183.34,317.5v1.7M183.34,477.5v-1.7M195.87,17.5v2.6M195.87,317.5v-2.6M195.87,317.5v1.7M195.87,477.5v-1.7M208.40,17.5v2.6M208.40,317.5v-2.6M208.40,317.5v1.7M208.40,477.5v-1.7M220.93,17.5v2.6M220.93,317.5v-2.6M220.93,317.5v1.7M220.93,477.5v-1.7M233.46,17.5v2.6M233.46,317.5v-2.6M233.46,317.5v1.7M233.46,477.5v-1.7M245.99,17.5v8.2M245.99,317.5v-8.2M245.99,317.5v5.3M245.99,477.5v-5.3M258.52,17.5v2.6M258.52,317.5v-2.6M258.52,317.5v1.7M258.52,477.5v-1.7M271.05,17.5v2.6M271.05,317.5v-2.6M271.05,317.5v1.7M271.05,477.5v-1.7M283.58,17.5v2.6M283.58,317.5v-2.6M283.58,317.5v1.7M283.58,477.5v-1.7M296.12,17.5v2.6M296.12,317.5v-2.6M296.12,317.5v1.7M296.12,477.5v-1.7M308.65,17.5v2.6M308.65,317.5v-2.6M308.65,317.5v1.7M308.65,477.5v-1.7M321.18,17.5v2.6M321.18,317.5v-2.6M321.18,317.5v1.7M321.18,477.5v-1.7M333.71,17.5v2.6M333.71,317.5v-2.6M333.71,317.5v1.7M333.71,477.5v-1.7M346.24,17.5v2.6M346.24,317.5v-2.6M346.24,317.5v1.7M346.24,477.5v-1.7M358.77,17.5v2.6M358.77,317.5v-2.6M358.77,317.5v1.7M358.77,477.5v-1.7M371.30,17.5v8.2M371.30,317.5v-8.2M371.30,317.5v5.3M371.30,477.5v-5.3M45.5,458.17h7.2M371.1,458.17h-7.2M45.5,442.24h5.5M371.1,442.24h-5.5M45.5,428.77h5.5M371.1,428.77h-5.5M45.5,417.10h5.5M371.1,417.10h-5.5M45.5,406.81h5.5M371.1,406.81h-5.5M45.5,397.60h7.2M371.1,397.60h-7.2M45.5,389.27h5.5M371.1,389.27h-5.5M45.5,381.67h5.5M371.1,381.67h-5.5M45.5,374.67h5.5M371.1,374.67h-5.5M45.5,368.20h5.5M371.1,368.20h-5.5M45.5,362.17h5.5M371.1,362.17h-5.5M45.5,356.53h5.5M371.1,356.53h-5.5M45.5,351.23h5.5M371.1,351.23h-5.5M45.5,346.24h5.5M371.1,346.24h-5.5M45.5,341.51h5.5M371.1,341.51h-5.5M45.5,337.03h7.2M371.1,337.03h-7.2M45.5,332.77h5.5M371.1,332.77h-5.5M45.5,328.70h5.5M371.1,328.70h-5.5M45.5,324.82h5.5M371.1,324.82h-5.5M45.5,321.10h5.5M371.1,321.10h-5.5M45.5,317.53h5.5M371.1,317.53h-5.5" stroke="#000" stroke-width="1" fill="none"/>
<text x="40.40" y="59.90" font-size="11" text-anchor="end" fill="#000" >10</text>
<text x="40.20" y="118.90" font-size="11" text-anchor="end" fill="#000" >1</text>
<text x="21.2" y="179.10" font-size="11">10</text>
<text x="33.199999999999996" y="174.20" font-size="7">&#8722;</text>
<text x="36.9" y="174.10" font-size="8.2">1</text>
<text x="19.5" y="237.65" font-size="11">10</text>
<text x="30.7" y="232.75" font-size="7">&#8722;</text>
<text x="34.4" y="232.65" font-size="8.2">2</text>
<text x="19.5" y="296.20" font-size="11">10</text>
<text x="30.7" y="291.30" font-size="7">&#8722;</text>
<text x="34.4" y="291.20" font-size="8.2">3</text>
<text x="38.20" y="341.10" font-size="11" text-anchor="end" fill="#000" >2</text>
<text x="38.40" y="402.00" font-size="11" text-anchor="end" fill="#000" >1</text>
<text x="37.80" y="462.00" font-size="11" text-anchor="end" fill="#000" >0.5</text>
<text x="373.60" y="340.90" font-size="11" text-anchor="start" fill="#000" >2</text>
<text x="373.60" y="402.00" font-size="11" text-anchor="start" fill="#000" >1</text>
<text x="373.60" y="462.00" font-size="11" text-anchor="start" fill="#000" >0.5</text>
<text x="120.38" y="488.90" font-size="11" text-anchor="middle" fill="#000" >1</text>
<text x="246.29" y="488.90" font-size="11" text-anchor="middle" fill="#000" >2</text>
<text x="369.80" y="488.90" font-size="11" text-anchor="middle" fill="#000" >3</text>
<text x="51.40" y="14.00" font-size="12.25" text-anchor="start" fill="#000" >13000 GeV pp</text>
<text x="366.40" y="14.00" font-size="12.2" text-anchor="end" fill="#000" >Z (Drell-Yan)</text>
<text x="79.9" y="42.0" font-size="12.2">Transverse region, 0 &lt;</text>
<text x="203.6" y="42.0" font-size="12.2">p</text>
<text x="207.2" y="37.1" font-size="8.3">Z</text>
<text x="208.0" y="49.2" font-size="8.3">T</text>
<text x="216.3" y="42.0" font-size="12.2">&lt; 10 [GeV], high thrust</text>
<text x="289.4" y="501.1" font-size="12">Mean p</text>
<text x="330.0" y="508.1" font-size="8">T</text>
<text x="333.8" y="501.1" font-size="12">/d&#951;</text>
<text x="355.7" y="501.1" font-size="12">d&#981;</text>
<text transform="translate(15.10,167.10) rotate(-90)" font-size="12" fill="#000" >1/N</text>
<text transform="translate(18.20,149.00) rotate(-90)" font-size="8.5" fill="#000" >ev</text>
<text transform="translate(15.10,138.00) rotate(-90)" font-size="12" fill="#000" >dN</text>
<text transform="translate(18.20,122.20) rotate(-90)" font-size="8.5" fill="#000" >ev</text>
<text transform="translate(15.10,116.80) rotate(-90)" font-size="12" fill="#000" >/d</text>
<text transform="translate(15.10,100.10) rotate(-90)" font-size="12" fill="#000" >mean p</text>
<text transform="translate(21.60,60.80) rotate(-90)" font-size="8.5" fill="#000" >T</text>
<text transform="translate(15.10,52.70) rotate(-90)" font-size="12" fill="#000" >[GeV]</text>
<text transform="translate(8.90,20.30) rotate(-90)" font-size="8.5" fill="#000" >1</text>
<text transform="translate(17.5,427.3) rotate(-90)" font-size="9.2">Ratio to ATLAS</text>
<rect x="74.00" y="240.40" width="5.2" height="5.2" fill="#000"/>
<text x="93.80" y="246.50" font-size="9.45" text-anchor="start" fill="#000" >ATLAS</text>
<line x1="64" y1="256.4" x2="88.9" y2="256.4" stroke="#0000ff" stroke-width="1.3"/>
<path d="M73.60,259.10L79.60,259.10L76.60,253.70Z" fill="#0000ff"/>
<text x="93.80" y="258.80" font-size="9.42" text-anchor="start" fill="#000" >Pythia 8.315 default</text>
<line x1="64" y1="269.3" x2="88.9" y2="269.3" stroke="#1a9cc0" stroke-width="1.3" stroke-dasharray="4.2,1.5,1.2,1.5"/>
<path d="M73.60,266.60L79.60,266.60L76.60,272.00Z" fill="#1a9cc0"/>
<text x="93.80" y="271.50" font-size="9.4" text-anchor="start" fill="#000" >Pythia 8.315 vincia-default</text>
<text x="162.60" y="300.90" font-size="8.08" text-anchor="start" fill="#999" >(ATLAS_2019_I1736531)</text>
<text transform="translate(380.2,127) rotate(-90)" font-size="8.8" fill="#666" textLength="109" lengthAdjust="spacing">Rivet 4.1.0, &#8805; 2.2M events</text>
<text transform="translate(380.4,304.5) rotate(-90)" font-size="8.8" fill="#666" textLength="132.8" lengthAdjust="spacing">mcplots.cern.ch [arXiv:1306.3436]</text>
</svg></body></html>
